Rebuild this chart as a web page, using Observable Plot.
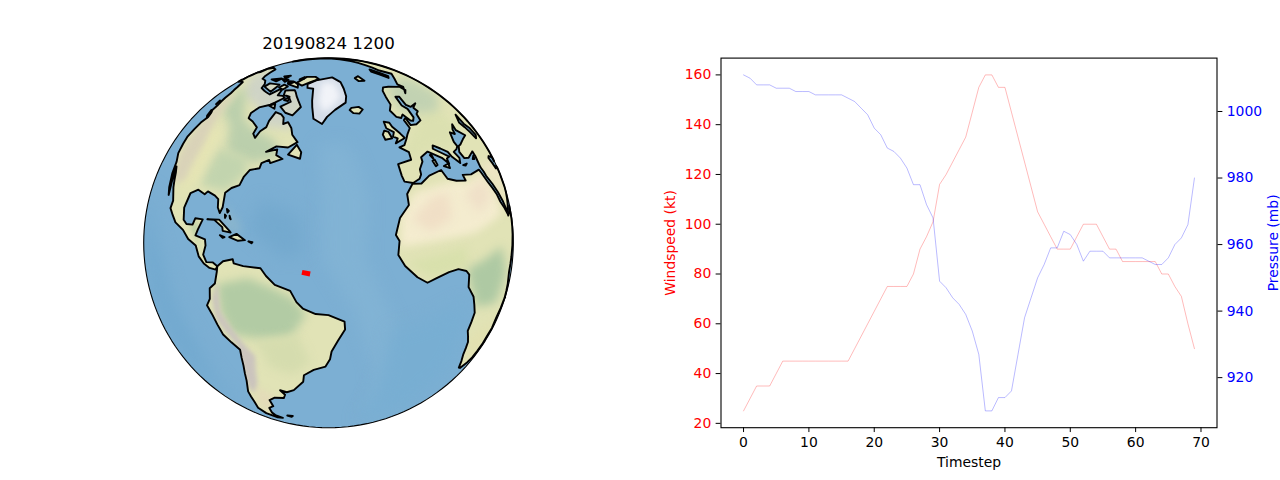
<!DOCTYPE html>
<html><head><meta charset="utf-8">
<script src="https://cdn.jsdelivr.net/npm/d3@7"></script>
<script src="https://cdn.jsdelivr.net/npm/@observablehq/plot@0.6"></script>
<style>
html,body{margin:0;padding:0;background:#fff;width:1280px;height:480px;overflow:hidden}
#stage{position:relative;width:1280px;height:480px}
#stage>*{position:absolute;left:0;top:0}
svg{background:transparent!important}
</style></head><body><div id="stage"></div>
<script>
// ---------- series ----------
const windspeed = [25,30,35,35,35,40,45,45,45,45,45,45,45,45,45,45,45,50,55,60,65,70,75,75,75,75,80,90,95,101,116,120,125,130,135,145,155,160,160,155,155,145,135,125,115,105,100,95,90,90,90,95,100,100,100,95,90,90,85,85,85,85,85,85,80,80,75,71,60,50];
const pressure = [1011,1010,1008,1008,1008,1007,1007,1007,1006,1006,1006,1005,1005,1005,1005,1005,1004,1003,1001,999,995,993,989,988,986,983,978,978,972,968,949,947,944,942,939,934,927,910,910,914,914,916,927,938,944,950,954,959,959,964,963,960,955,958,958,958,956,956,956,956,956,956,955,954,954,956,960,962,966,980];
const timeTicks = [0,10,20,30,40,50,60,70];
const windTicks = [20,40,60,80,100,120,140,160];
const pressureTicks = [920,940,960,980,1000];
const title = "20190824 1200";
const trackLon = [-48.4,-45.8];
const trackLat = [10.6,10.2];

// ---------- coastlines [lon,lat] ----------
const northAmerica = [[-168,65.5],[-166,68.5],[-156.5,71.3],[-141,69.6],[-135,69],[-128,70],[-120,69.5],[-115,68],[-108,68],[-104,68],[-98,68],[-96,71.5],[-93,71.5],[-90,69],[-85,69.5],[-81.5,69],[-85,66],[-87,64.5],[-93,62],[-94.5,59],[-92.5,57],[-88,56.5],[-82.5,55],[-82,52.5],[-79.5,51.3],[-79,54],[-77,56],[-78,58.5],[-78,62.4],[-73,62],[-70,61],[-68,58.5],[-65.5,59.5],[-62,57.5],[-60,55],[-56,52.5],[-60,50.2],[-66,50],[-70,47.5],[-65,49],[-64.5,47],[-61,46],[-66,44],[-67,45],[-70,43.5],[-70,41.7],[-74,40.5],[-75.5,38],[-76,35],[-79,33.5],[-81,31.5],[-80,27],[-80.5,25],[-82,26.5],[-83,29],[-85,29.7],[-89,30.2],[-90,29],[-94,29.5],[-97.3,27.5],[-97.7,22.5],[-96,19],[-94,18.2],[-91,18.8],[-90.5,21],[-87,21.5],[-88,18],[-88.5,16],[-84,15.8],[-83.3,14],[-83.7,11],[-82,9],[-79.5,9.5],[-77.5,8.7],[-78,7.5],[-80.5,7.5],[-83,8.3],[-85.5,10],[-87.5,13],[-91.5,14],[-95,16],[-100,17],[-105.5,20],[-105.5,22.5],[-109,26],[-112.5,30],[-114.7,31.5],[-112,27],[-110,23],[-112,25],[-115,29],[-117,32.5],[-120.5,34.5],[-122.5,37.5],[-124,40],[-124,46],[-123,49],[-125,50.5],[-127,51],[-128,53],[-130,54.5],[-132,56],[-134,58],[-137,59],[-140,60],[-147,61],[-152,59.5],[-158,56.5],[-164,55],[-158,58.5],[-162,59.5],[-165,62],[-161,64.5]];
const southAmerica = [[-77.5,8.7],[-75.5,10.7],[-72,12],[-71.5,10.8],[-68,10.5],[-62,10.7],[-60,8.5],[-57,6],[-52,4.5],[-50,1],[-48,-1],[-44,-2.7],[-40,-3],[-35,-5.3],[-34.8,-8],[-37,-12],[-39,-16],[-39.5,-19],[-41,-22],[-45,-23.5],[-48.5,-26],[-49,-29],[-53,-33.5],[-56,-35],[-58.5,-34.3],[-57,-36.5],[-58,-38.5],[-62,-39],[-65,-41],[-65,-45],[-68,-47],[-69,-51],[-68.5,-53],[-65.5,-55],[-69,-55.5],[-74,-53],[-75.5,-49],[-74,-44],[-73.5,-38],[-71.5,-32],[-70.5,-25],[-70.3,-18.5],[-76,-14],[-79.5,-7.5],[-81.3,-5],[-80,-2.5],[-80,1],[-78,3],[-77.5,7]];
const africa = [[-5.9,35.8],[-2,35.2],[3,36.9],[10,37.3],[11,34],[15,32.3],[20,31],[20,33],[25,31.7],[32,31.2],[32.5,30],[34,26],[37,21],[38,18],[43,12],[43.2,11.5],[51,12],[50,8],[47,4],[42,-1.5],[39,-5.5],[40,-10],[40.5,-15],[35,-20],[35.5,-24],[32.8,-26],[32,-29],[28,-33],[25,-34],[20,-34.8],[18.3,-34],[15,-27],[14.5,-22],[12,-17],[13.7,-11],[12,-5],[9.3,-1],[9.7,3],[8.5,4.5],[5,6],[1,6],[-4,5.2],[-7.5,4.4],[-11,6.8],[-15,11],[-17,14.7],[-16,19],[-17,21],[-14.5,26],[-10,29.5],[-9.5,33]];
const eurasia = [[-5.5,36],[-9,37],[-9.3,39],[-9,43],[-2,43.4],[-1.2,46],[-4.7,48.4],[-1.5,48.7],[1.5,50.5],[4,52],[8,53.7],[8.5,57],[10.7,57.5],[10,54.5],[14,54],[19,54.5],[21,57],[24,57.5],[24,59.3],[30,60],[23,60],[21.3,61.5],[25,65],[22,65.8],[17.5,62],[18.8,60],[16.5,56.5],[14,55.5],[12.5,56],[11,59],[8,58],[5.5,59],[5,62],[10,64],[14,67.5],[19,70],[25,71],[31,70],[41,67],[40,65],[35,64.5],[44,66],[44,68],[55,69],[68,69],[70,73],[110,76],[140,73],[170,70],[170,60],[140,55],[130,42],[120,38],[120,25],[108,18],[105,9],[100,13],[98,8],[94,16],[90,22],[80,15],[77,8],[73,18],[67,25],[57,25.5],[56.5,27],[50,30],[48,30],[51,25],[55,24.5],[59,22],[55,17],[45,13],[43,13],[39,21],[35,28],[34.9,29.5],[34.3,31.3],[35.8,35],[36,36.7],[30,36.2],[27,37],[26.5,39.5],[29,41],[31,41],[36,41.5],[41,41.5],[37,45],[38.8,47],[35,46],[33.5,44.5],[31,46],[28,43],[28,41.3],[26,40.7],[23,40.5],[24,38],[22.5,36.5],[20,39.5],[19.5,41.5],[13.5,45.5],[12.3,44.5],[16,41.8],[18.5,40],[16.5,39.8],[16,38],[14,40.7],[10.5,43],[8.5,44.3],[3.5,43.3],[3,41.8],[0,39.7],[-0.5,38],[-2,36.8]];
const greenland = [[-73,78],[-68,76],[-60,76],[-55,70],[-53,67],[-50,62],[-44,60],[-41,63],[-35,66],[-25,69],[-22,72],[-20,76],[-18,80],[-30,83.5],[-50,82.5],[-65,81]];
const caspian = [[47,45],[53,46.5],[51,43],[53.5,40],[54,37],[50,37],[49,40]];
const islands = [
  [[-24,65.5],[-22,64],[-18,63.5],[-14,65],[-16,66.4],[-22,66.4]],
  [[-5.5,50],[1,51],[0,53],[-2,56],[-2,57.7],[-5,58.6],[-6,56],[-3,54],[-5,52.5],[-3,51.5]],
  [[-10,52],[-6,52],[-6,54.5],[-8,55.3],[-10,54]],
  [[-59,47.7],[-53,46.7],[-53,49],[-56,51.5]],
  [[-85,22],[-80,23],[-75,20.5],[-74.3,20],[-77.5,19.9],[-78,21],[-82,22.5]],
  [[-74.5,18.5],[-72,20],[-68.5,18.6],[-71,18]],
  [[-78.3,18.4],[-76.3,18.2],[-77,17.8]],
  [[-67.2,18.4],[-65.7,18.4],[-66,18]],
  [[-78,26.8],[-77,26.4],[-77.4,25.8]],
  [[-78.2,25],[-77.6,24.7],[-77.8,24]],
  [[-76.2,25],[-75.4,24],[-75.8,24.2]],
  [[-80,73.5],[-76,72.5],[-72,71],[-67,69],[-62,66.5],[-65,62.5],[-71,63],[-78,65],[-73,68],[-79,70],[-85,70],[-89,72]],
  [[-117,71],[-105,73],[-101,69],[-115,69]],
  [[-125,72],[-118,75],[-116,73]],
  [[-90,77],[-78,76.5],[-62,82],[-75,83],[-92,81.5]],
  [[-96,75],[-80,75],[-85,76.5],[-95,77]],
  [[-100,72],[-93,72],[-93,74],[-100,74]],
  [[-95,79],[-90,80],[-95,81]],
  [[-87,64],[-81,63.5],[-84,65.5]],
  [[-117,75],[-106,75],[-108,76.5]],
  [[-104,76],[-98,75],[-97,77]],
  [[-122,76],[-114,76],[-118,78]],
  [[-80,68],[-76,68],[-78,70]],
  [[12,78],[20,77],[27,80],[15,80]],
  [[52,71],[57,71],[68,76.5],[60,76.5]],
  [[-128,50.7],[-125,50],[-123.5,48.5],[-125.5,48.8]],
  [[-133,54],[-131.5,54],[-131.5,52.5]],
  [[8.2,41],[9.7,41],[9.6,39.2],[8.4,39]],
  [[8.6,43],[9.5,43],[9.3,41.4]],
  [[12.5,38.1],[15.6,38.2],[15.1,36.7]],
  [[23.5,35.5],[26.3,35.2],[24.8,34.9]],
  [[32.3,35],[34.5,35.6],[33.5,34.6]],
  [[-61,-51.5],[-58,-51.3],[-59,-52.3]],
  [[44,-16],[49.5,-12],[50,-16],[47,-25],[44,-25]]
];

// ---------- colour patches of the relief picture [lon,lat] ----------
const tundra = [[-165,71],[-120,71],[-95,72],[-60,75],[-62,57],[-78,56],[-95,62],[-118,62],[-160,62]];
const boreal = [[-135,63],[-112,62],[-95,56],[-84,54],[-68,52],[-63,46],[-75,43],[-90,44],[-100,52],[-118,54]];
const eastUS = [[-95,44],[-78,44],[-75,39],[-81,32],[-94,31]];
const rockies = [[-128,60],[-115,52],[-106,42],[-104,30],[-110,27],[-118,34],[-123,44],[-133,58]];
const plains = [[-113,50],[-100,48],[-97,32],[-103,26],[-108,36]];
const centralAm = [[-92,18],[-89,21],[-87,15],[-83,10],[-80,8],[-85,12]];
const amazon = [[-77,3],[-66,7],[-58,5],[-51,2],[-47,-3],[-52,-11],[-62,-13],[-72,-13],[-76,-6]];
const pantanal = [[-64,-14],[-50,-10],[-46,-20],[-52,-26],[-60,-24]];
const andes = [[-77,4],[-76,-6],[-70,-14],[-65,-20],[-67,-32],[-70,-38],[-72,-36],[-71,-24],[-71,-17],[-78,-9],[-79,-2]];
const patagonia = [[-68,-34],[-62,-38],[-66,-47],[-70,-52],[-73,-45]];
const sahara = [[-16,17],[-14,27],[-6,33],[10,33],[22,30],[33,30],[37,20],[35,15],[15,15]];
const ergs = [[-10,25],[0,30],[8,30],[6,22],[-4,20]];
const libya = [[16,27],[30,29],[32,22],[20,20]];
const congo = [[9,5],[30,6],[34,-4],[28,-12],[14,-9],[10,0]];
const guinea = [[-14,12],[10,12],[9,6],[-6,6]];
const southAfrica = [[15,-20],[32,-18],[30,-30],[18,-32]];
const europe = [[-8,44],[3,50],[20,55],[40,55],[40,45],[25,42],[12,45],[2,44]];
const russia = [[12,60],[25,70],[50,68],[70,65],[70,52],[40,53],[25,56]];
const arabia = [[36,32],[50,28],[57,22],[50,15],[43,16]];
const iceCore = [[-52,80],[-30,80],[-28,72],[-36,68],[-44,65],[-49,70]];
const ridge = [[-45,52],[-30,52],[-25,35],[-28,15],[-22,0],[-10,-25],[-8,-50],[-22,-50],[-24,-25],[-32,-2],[-42,15],[-42,33]];
const pacificDeep = [[-130,20],[-105,5],[-90,-20],[-85,-55],[-130,-55]];
const atlanticDeep = [[-65,32],[-50,28],[-48,16],[-55,15],[-68,22]];
const bahamasShelf = [[-80,28],[-72,24],[-70,20],[-75,20],[-80,23]];
const eastSouthAtl = [[-20,-10],[8,-5],[10,-30],[-5,-55],[-25,-55]];

// ---------- helpers ----------
function poly(ring){
  const closed = [...ring, ring[0]];
  const f = {type:"Feature",geometry:{type:"Polygon",coordinates:[closed]}};
  if (d3.geoArea(f) > 2*Math.PI) f.geometry.coordinates[0] = closed.slice().reverse();
  return f;
}
const fc = rings => ({type:"FeatureCollection",features:rings.map(poly)});
const land = fc([northAmerica,southAmerica,africa,eurasia,...islands]);
const sea = (ring,fill,blur=8,opacity=1) => Plot.geo(poly(ring),{fill,fillOpacity:opacity,stroke:"none",imageFilter:`blur(${blur}px)`,clip:"sphere"});
const patch = (ring,fill,blur=4,opacity=1) => Plot.geo(poly(ring),{fill,fillOpacity:opacity,stroke:"none",imageFilter:`blur(${blur}px)`,clip:land});
const FONT = "'DejaVu Sans'";
const frameBox = {width:1280,height:480,marginLeft:720.5,marginRight:63.5,marginTop:57.6,marginBottom:52.8};
const xOpt = {domain:[-3.45,72.45]};
const TICK = 4.86;

// ---------- globe ----------
const globe = Plot.plot({
  width:1280,height:480,marginLeft:143,marginRight:767,marginTop:57.6,marginBottom:52.8,
  style:{background:"transparent",fontFamily:FONT},
  projection:{type:"orthographic",rotate:[40,-20],domain:{type:"Sphere"}},
  marks:[
    Plot.sphere({fill:"#7cafd3",stroke:"none"}),
    sea(pacificDeep,"#72a9cf"),
    sea(atlanticDeep,"#74a9ce"),
    sea(ridge,"#86b5d6",8,.6),
    sea(eastSouthAtl,"#78aed2"),
    sea(bahamasShelf,"#93b9c9",4,.6),
    Plot.geo(land,{fill:"#e1e3b6",stroke:"none"}),
    patch(tundra,"#cfd4c6",4),
    patch(boreal,"#bbcfac",5),
    patch(eastUS,"#c2d4ae",5),
    patch(plains,"#e6e5b4",5),
    patch(rockies,"#d9d2b8",3),
    patch(centralAm,"#bfd2a6",2),
    patch(amazon,"#b2cba4",5),
    patch(pantanal,"#d5dcae",5),
    patch(andes,"#cbc4bd",2),
    patch(patagonia,"#e3dbb8",3),
    patch(sahara,"#f4eccf",4),
    patch(ergs,"#f0dfc6",5),
    patch(libya,"#efe0c8",5),
    patch(guinea,"#d8e0ac",4),
    patch(congo,"#aec9a3",5),
    patch(southAfrica,"#e2e0af",5),
    patch(europe,"#dbe0b0",4),
    patch(russia,"#c2d2b2",5),
    patch(arabia,"#f2e6c8",4),
    Plot.geo(poly(greenland),{fill:"#d5dde8",stroke:"none"}),
    Plot.geo(poly(iceCore),{fill:"#f1f3f8",stroke:"none",imageFilter:"blur(3px)",clip:poly(greenland)}),
    Plot.geo(poly(caspian),{fill:"#7cafd3",stroke:"none"}),
    Plot.geo(land,{fill:"none",stroke:"black",strokeWidth:1.9,strokeLinejoin:"round"}),
    Plot.geo(poly(greenland),{fill:"none",stroke:"black",strokeWidth:1.9}),
    Plot.geo(poly(caspian),{fill:"none",stroke:"black",strokeWidth:1.9}),
    Plot.line(trackLon.map((d,i)=>[d,trackLat[i]]),{x:"0",y:"1",stroke:"red",strokeWidth:5,strokeLinecap:"butt"}),
    Plot.sphere({stroke:"black",strokeWidth:1.1}),
    Plot.text([title],{frameAnchor:"top",dy:-21,fontSize:16.67,fontFamily:FONT,fill:"black"})
  ]
});

// ---------- left axis: windspeed ----------
const windPlot = Plot.plot({
  ...frameBox,
  style:{background:"transparent",fontFamily:FONT},
  x:xOpt,
  y:{domain:[18.25,166.75]},
  marks:[
    Plot.axisX({ticks:timeTicks,tickSize:TICK,tickPadding:TICK,fontSize:13.9,tickFormat:"d",label:"Timestep",labelAnchor:"center",labelArrow:"none",labelOffset:39,fill:"black",stroke:"black"}),
    Plot.axisY({anchor:"left",ticks:windTicks,tickSize:TICK,tickPadding:TICK,fontSize:13.9,tickFormat:"d",label:"Windspeed (kt)",labelAnchor:"center",labelArrow:"none",labelOffset:56,fill:"red",stroke:"black"}),
    Plot.lineY(windspeed,{x:(d,i)=>i,y:d=>d,stroke:"red",strokeOpacity:.3,strokeWidth:.9}),
    Plot.frame({stroke:"black",strokeWidth:1.1})
  ]
});

// ---------- right axis: pressure ----------
const pressurePlot = Plot.plot({
  ...frameBox,
  style:{background:"transparent",fontFamily:FONT},
  x:{...xOpt,axis:null},
  y:{domain:[904.95,1016.05],axis:null},
  marks:[
    Plot.axisY({anchor:"right",ticks:pressureTicks,tickSize:TICK,tickPadding:TICK,fontSize:13.9,tickFormat:"d",label:"Pressure (mb)",labelAnchor:"center",labelArrow:"none",labelOffset:61,fill:"blue",stroke:"black"}),
    Plot.lineY(pressure,{x:(d,i)=>i,y:d=>d,stroke:"blue",strokeOpacity:.3,strokeWidth:.9})
  ]
});

document.getElementById("stage").append(globe,windPlot,pressurePlot);
</script></body></html>
